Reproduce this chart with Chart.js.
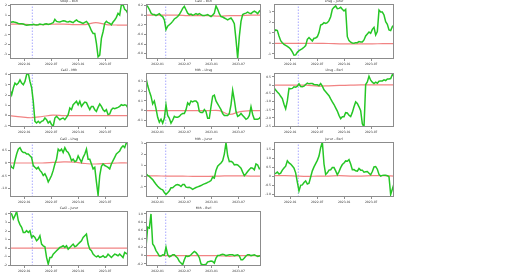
<!DOCTYPE html>
<html>
<head>
<meta charset="utf-8">
<script src="https://cdn.jsdelivr.net/npm/chart.js@4.4.1/dist/chart.umd.min.js"></script>
<style>
  html, body { margin: 0; padding: 0; background: #fff; }
  #wrap { position: relative; width: 532px; height: 276px; overflow: hidden; }
  #wrap canvas { position: absolute; }
</style>
</head>
<body>
<div id="wrap"></div>
<script>
// x values are months counted from 2022-01
const tickMonths = [0, 6, 12, 18];
const tickLabels = ['2022-01', '2022-07', '2023-01', '2023-07'];
const eventMonth = 1.8;

const titles = ['Sbop – Bsrl', 'Ca6l – Bsrl', 'Lhsg – Jurur', 'Ca6l – Mth', 'Mth – Lhsg', 'Lhsg – Bsrl',
  'Ca6l – Lhsg', 'Mth – Jurur', 'Jurur – Bsrl', 'Ca6l – Jurur', 'Mth – Bsrl'];
const startMonths = [-3.16, -2.58, -3.6, -3.16, -2.58, -3.6, -3.16, -2.58, -3.6, -3.16, -2.58];
const endMonths = [23.07, 22.98, 23.07, 23.07, 22.98, 23.07, 23.07, 22.98, 23.07, 23.07, 22.98];
const yMins = [-3.5, -0.91, -1.5, -1.1, -0.17, -2.55, -1.33, -1.94, -1.16, -2.1, -0.25];
const yMaxs = [2.17, 0.23, 3.75, 4.14, 0.39, 0.74, 0.82, 3.15, 1.89, 4.35, 1.07];
const ySteps = [1, 0.2, 1, 1, 0.1, 0.5, 0.5, 1, 0.5, 1, 0.2];

// spread series (green)
const sbopBsrl = [0.24,0.31,0.34,0.28,0.24,0.17,0.14,0.14,0.10,0.03,-0.03,0.0,0.03,0.03,0.07,0.03,0.0,0.03,0.10,0.07,0.03,0.10,0.14,0.07,0.10,0.17,0.24,0.59,0.38,0.34,0.31,0.38,0.45,0.41,0.34,0.31,0.38,0.31,0.24,0.41,0.52,0.38,0.31,0.24,0.17,0.28,0.38,0.17,-0.17,-0.59,-0.86,-0.86,-1.90,-3.28,-3.10,-1.38,-0.69,0.17,0.38,0.24,0.17,0.03,0.31,0.52,0.79,1.21,1.03,2.07,2.10,1.62,1.48,1.14];
const ca6lBsrl = [0.21,0.18,0.12,0.04,0.01,0.01,-0.01,0.01,0.03,-0.01,-0.03,-0.10,-0.30,-0.23,-0.20,-0.17,-0.13,-0.08,-0.06,-0.03,0.01,0.07,0.14,0.18,0.11,0.04,0.01,0.02,0.0,0.01,0.03,0.01,0.03,0.01,-0.01,-0.01,0.0,0.01,-0.01,-0.03,0.0,0.04,0.19,0.12,0.03,-0.03,-0.04,-0.06,-0.08,-0.10,-0.08,-0.06,-0.11,-0.18,-0.51,-0.89,-0.44,-0.13,0.01,0.03,0.04,0.06,0.04,0.03,0.06,0.08,0.06,0.03,0.08,0.11];
const lhsgJurur = [1.11,1.27,1.21,0.70,0.25,0.06,-0.10,-0.19,-0.29,-0.41,-0.57,-0.83,-1.14,-1.11,-0.86,-0.70,-0.60,-0.51,-0.38,-0.22,0.38,0.54,0.38,0.22,0.48,0.51,0.63,1.02,1.75,1.81,1.97,1.90,1.97,2.16,2.54,3.24,3.43,3.56,3.30,3.33,3.43,3.24,3.08,3.24,0.63,0.25,0.10,0.03,0.0,0.06,0.06,0.16,0.13,0.13,0.32,0.70,0.89,1.08,0.95,1.33,1.52,0.79,1.11,3.17,2.98,2.98,2.70,2.06,1.81,1.27,1.21,1.59,1.75];
const ca6lMth = [2.52,2.03,2.68,3.16,3.00,3.16,3.48,3.16,3.00,3.32,3.97,4.13,3.32,2.74,1.39,-0.55,-0.71,-0.55,-0.71,-0.55,-0.48,-0.23,-0.39,-0.71,-0.55,-0.87,-1.03,-0.23,-0.06,-0.23,-0.39,-0.29,-0.23,-0.39,-0.16,0.10,0.74,0.58,1.06,1.23,1.39,1.06,1.39,0.90,1.13,1.32,1.26,0.90,0.58,0.90,0.90,0.58,0.42,0.81,1.13,0.90,0.58,0.42,0.58,0.10,0.16,0.58,0.74,0.68,0.74,0.81,0.90,1.06,1.00,1.06,1.00,0.74];
const mthLhsg = [0.34,0.26,0.20,0.15,0.07,0.10,0.02,-0.07,-0.12,-0.09,-0.13,-0.08,0.06,-0.05,-0.08,-0.13,-0.10,-0.06,-0.07,-0.07,-0.06,-0.04,-0.03,-0.03,0.01,0.08,0.06,0.10,0.09,0.10,0.10,0.08,-0.01,-0.02,-0.02,0.01,-0.01,-0.08,-0.08,0.04,0.15,0.16,0.10,0.07,0.04,0.01,-0.03,-0.05,-0.05,-0.05,-0.03,0.06,0.21,0.11,-0.01,-0.06,-0.05,-0.03,-0.05,-0.07,-0.09,-0.08,-0.05,0.04,-0.04,-0.09,-0.09,-0.09,-0.08,-0.06];
const lhsgBsrl = [-0.16,-0.30,-0.42,-0.52,-0.68,-0.82,-1.16,-1.44,-0.96,-0.20,-0.22,-0.20,-0.10,-0.12,-0.06,0.08,-0.08,-0.10,-0.06,0.04,0.12,0.08,0.10,0.10,0.04,0.02,0.02,-0.04,0.10,-0.06,-0.28,-0.40,-0.52,-0.64,-0.84,-1.02,-1.18,-1.38,-1.58,-1.84,-2.04,-1.92,-1.92,-1.68,-1.70,-1.84,-1.92,-1.66,-1.32,-1.02,-1.12,-1.32,-1.56,-2.36,-2.56,0.04,0.20,0.54,0.30,0.18,0.10,0.18,0.12,0.24,0.26,0.26,0.32,0.28,0.38,0.38,0.40,0.64,0.60];
const ca6lLhsg = [-0.04,-0.17,-0.21,0.09,0.35,0.54,0.60,0.47,0.41,0.41,0.35,0.35,0.28,0.22,-0.10,-0.17,-0.23,-0.17,-0.29,-0.36,-0.49,-0.42,-0.55,-0.74,-0.62,-0.49,-0.29,-0.04,0.15,0.54,0.47,0.54,0.41,0.60,0.47,0.41,0.28,0.09,0.15,0.05,0.09,0.28,0.15,0.03,0.22,0.35,0.54,0.15,0.15,-0.04,-0.23,-0.17,-0.74,-1.26,-0.49,-0.13,-0.04,-0.10,-0.13,-0.17,-0.23,-0.04,0.09,0.22,0.35,0.41,0.47,0.60,0.67,0.60,0.79,0.73];
const mthJurur = [0.21,0.06,-0.03,-0.18,-0.33,-0.55,-0.76,-0.94,-1.09,-1.21,-1.27,-1.52,-1.70,-1.55,-1.36,-1.09,-1.09,-0.94,-0.82,-0.79,-0.85,-0.97,-0.79,-0.79,-1.03,-1.06,-1.03,-1.12,-1.24,-1.15,-1.06,-1.00,-0.94,-0.88,-0.79,-0.73,-0.67,-0.58,-0.52,-0.42,-0.09,-0.18,0.52,0.91,1.06,1.21,1.42,2.03,3.09,1.88,1.33,1.36,1.27,1.03,1.06,1.03,0.88,0.73,0.36,0.03,0.21,0.42,0.61,0.76,0.73,0.58,1.12,1.03,0.67,0.73];
const jururBsrl = [0.13,0.15,0.22,0.11,0.16,0.33,0.45,0.55,0.85,0.73,0.67,0.56,0.44,0.18,-0.33,-0.82,-0.51,-0.49,-0.36,-0.27,-0.44,-0.40,-0.05,0.29,0.51,0.69,0.87,1.11,1.58,1.89,0.67,0.09,0.18,0.33,0.35,0.47,0.47,0.29,0.07,0.25,0.47,0.64,0.73,0.84,0.82,0.91,0.67,0.35,0.36,0.29,0.27,0.42,0.33,0.33,0.22,0.24,0.25,0.16,0.07,0.25,0.51,0.53,0.38,0.09,0.0,0.04,0.05,0.05,0.02,-0.04,-1.02,-0.73,-0.42];
const ca6lJurur = [4.08,4.00,3.41,3.80,4.30,3.22,2.75,2.43,1.84,1.84,2.04,1.84,2.04,1.25,1.45,1.25,0.86,1.06,1.45,0.47,0.27,0.16,-1.10,-1.88,-1.10,-1.10,-0.71,-0.51,-0.31,-0.12,0.08,0.16,0.27,0.08,0.27,-0.12,0.08,0.27,0.47,0.16,0.27,0.47,0.67,0.86,1.25,1.45,1.65,0.47,-0.12,-0.31,-0.71,-0.90,-1.02,-0.90,-1.10,-1.02,-0.90,-1.10,-1.02,-0.71,-0.90,-1.10,-0.90,-0.71,-0.78,-0.90,-0.71,-0.90,-1.10,-0.51,-0.63,-0.71];
const mthBsrl = [0.20,0.68,0.66,1.00,0.28,0.22,0.12,0.06,-0.01,-0.01,0.02,0.01,0.20,0.02,-0.03,-0.01,0.02,0.02,-0.02,-0.06,-0.14,-0.18,-0.22,-0.10,-0.01,-0.02,-0.01,0.02,0.06,0.10,0.07,0.02,-0.05,-0.20,-0.22,-0.22,-0.21,-0.15,-0.14,-0.13,-0.14,-0.18,-0.06,0.0,0.0,0.02,0.03,0.02,0.0,0.01,0.02,0.02,0.02,0.0,0.01,0.02,-0.01,-0.10,-0.10,-0.06,-0.01,0.02,0.02,0.0,0.01,0.02,0.0,-0.02,-0.01,0.0];

// rolling mean series (red)
const sbopBsrlMean = [0.10,0.10,0.05,0.05,0.08,0.10,0.05,0.05,0.25,0.05,0.0,0.0];
const ca6lBsrlMean = [0.0,0.0,0.0,0.0,-0.01,-0.01,-0.01,-0.02,-0.01,-0.01,0.0,0.0];
const lhsgJururMean = [0.0,0.0,0.0,0.0,0.0,-0.02,-0.05,-0.06,-0.06,-0.05,-0.04,-0.03];
const ca6lMthMean = [0.0,-0.12,-0.2,-0.08,0.05,0.0,0.0,0.0,0.0,0.0,0.0,0.0];
const mthLhsgMean = [0,0,0,0,0,0,0,0,-0.04,-0.01,0,0];
const lhsgBsrlMean = [0,0,0,0,-0.06,-0.04,-0.02,0,0.02,0.02,0.02,0.02];
const ca6lLhsgMean = [0,0,0,0,0.02,0.04,0.03,-0.02,-0.04,-0.02,0,0];
const mthJururMean = [0.02,0.01,0,0,-0.02,-0.03,-0.03,0,0.02,0.02,0,0];
const jururBsrlMean = [0.02,0.02,0,-0.02,0,0,0.02,0,0,0.02,0.02,0];
const ca6lJururMean = [0,0,0,0,0,0,0,0,0,0,0,0];
const mthBsrlMean = [0,0,0,0,0,0,0,0,-0.02,0,0,0];

const spreads = [sbopBsrl, ca6lBsrl, lhsgJurur, ca6lMth, mthLhsg, lhsgBsrl, ca6lLhsg, mthJurur, jururBsrl, ca6lJurur, mthBsrl];
const means = [sbopBsrlMean, ca6lBsrlMean, lhsgJururMean, ca6lMthMean, mthLhsgMean, lhsgBsrlMean, ca6lLhsgMean, mthJururMean, jururBsrlMean, ca6lJururMean, mthBsrlMean];

// grid of plot areas
const colLeft = [10, 146, 274], colRight = [128, 261, 394];
const rowTop = [4, 73, 142, 211], rowBottom = [59, 127, 197, 266];
const padL = 12, padT = 6, padR = 3, padB = 9;
const font = { family: '"DejaVu Sans", sans-serif', size: 3 };

function toPoints(values, start, end) {
  const step = (end - start) / (values.length - 1);
  return values.map((v, i) => ({ x: start + i * step, y: v }));
}

const framePlugin = {
  id: 'frame',
  afterDraw(chart) {
    const { ctx, chartArea: a } = chart;
    ctx.save();
    ctx.strokeStyle = '#8c8c8c';
    ctx.lineWidth = 1;
    ctx.strokeRect(a.left + 0.5, a.top + 0.5, a.right - a.left - 1, a.bottom - a.top - 1);
    ctx.fillStyle = '#333';
    ctx.font = '3.2px "DejaVu Sans", sans-serif';
    ctx.textAlign = 'center';
    ctx.textBaseline = 'middle';
    ctx.fillText(chart.options.plugins.frame.title, (a.left + a.right) / 2, a.top - 2.5);
    ctx.restore();
  }
};

const wrap = document.getElementById('wrap');

spreads.forEach((spread, i) => {
  const col = i % 3, row = Math.floor(i / 3);
  const w = colRight[col] - colLeft[col] + padL + padR;
  const h = rowBottom[row] - rowTop[row] + padT + padB;
  const canvas = document.createElement('canvas');
  canvas.width = w; canvas.height = h;
  canvas.style.width = w + 'px'; canvas.style.height = h + 'px';
  canvas.style.left = (colLeft[col] - padL) + 'px';
  canvas.style.top = (rowTop[row] - padT) + 'px';
  wrap.appendChild(canvas);

  const ctx = canvas.getContext('2d');
  new Chart(ctx, {
    type: 'line',
    data: {
      datasets: [
        {
          data: toPoints(spread, startMonths[i], endMonths[i]),
          borderColor: '#26c626',
          borderWidth: 1.5,
          pointRadius: 0,
          tension: 0,
        },
        {
          data: toPoints(means[i], startMonths[i], endMonths[i]),
          borderColor: 'rgba(238,100,100,0.8)',
          borderWidth: 1.2,
          pointRadius: 0,
          tension: 0.3,
        },
        {
          data: [{ x: eventMonth, y: yMins[i] }, { x: eventMonth, y: yMaxs[i] }],
          borderColor: 'rgba(110,110,255,0.75)',
          borderWidth: 0.8,
          borderDash: [1.5, 1.5],
          pointRadius: 0,
        },
      ],
    },
    options: {
      responsive: false,
      animation: false,
      events: [],
      layout: { padding: { left: 0, top: padT, right: padR, bottom: 0 } },
      plugins: { legend: { display: false }, tooltip: { enabled: false }, frame: { title: titles[i] } },
      scales: {
        x: {
          type: 'linear',
          min: startMonths[i],
          max: endMonths[i],
          afterBuildTicks: (s) => { s.ticks = tickMonths.map((v) => ({ value: v })); },
          afterFit: (s) => { s.height = padB; },
          ticks: {
            font, color: '#333', padding: 1, maxRotation: 0, autoSkip: false,
            callback: (v) => tickLabels[tickMonths.indexOf(v)],
          },
          grid: { drawOnChartArea: false, tickLength: 2, color: '#444', lineWidth: 0.6 },
          border: { display: false },
        },
        y: {
          type: 'linear',
          min: yMins[i],
          max: yMaxs[i],
          afterFit: (s) => { s.width = padL; },
          ticks: { font, color: '#333', padding: 1, stepSize: ySteps[i], includeBounds: false },
          grid: { drawOnChartArea: false, tickLength: 2, color: '#444', lineWidth: 0.6 },
          border: { display: false },
        },
      },
    },
    plugins: [framePlugin],
  });
});
</script>
</body>
</html>
